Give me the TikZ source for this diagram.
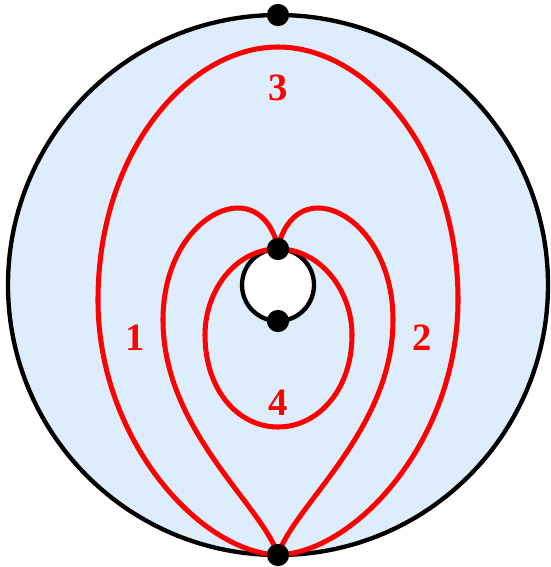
\documentclass[tikz,border=0pt]{standalone}
\usepackage{fontspec}
\setmainfont{Liberation Serif}
\definecolor{bgblue}{RGB}{221,237,252}
\definecolor{cred}{RGB}{255,0,0}
\begin{document}
\begin{tikzpicture}[x=0.03cm,y=-0.03cm,
  redline/.style={draw=cred,line width=4.3pt},
  blackline/.style={draw=black,line width=3.7pt},
  dot/.style={circle,fill=black,inner sep=0pt,minimum size=19pt},
  lbl/.style={text=cred,font=\fontsize{33}{33}\selectfont\bfseries}]
\useasboundingbox (0,0) rectangle (550,567);
\coordinate (C) at (278,285);
\draw[blackline,fill=bgblue] (C) circle[radius=270];
\draw[blackline,fill=white] (C) circle[radius=36];
\coordinate (T) at (278,15);
\coordinate (B) at (278,555);
\coordinate (P) at (278,249);
\coordinate (Q) at (278,321);
% curve 3
\draw[redline] (B) .. controls (200,552) and (98,440) .. (98,300)
  .. controls (98,150) and (190,47) .. (278,47)
  .. controls (366,47) and (458,150) .. (458,300)
  .. controls (458,440) and (356,552) .. (B);
% curve 1
\draw[redline] (B) .. controls (262,505) and (163,430) .. (163,320)
  .. controls (163,250) and (205,208) .. (238,208)
  .. controls (262,208) and (275,230) .. (P);
% curve 2
\draw[redline] (B) .. controls (294,505) and (393,430) .. (393,320)
  .. controls (393,250) and (351,208) .. (318,208)
  .. controls (294,208) and (281,230) .. (P);
% curve 4
\draw[redline] (P) .. controls (320,249) and (352,290) .. (352,335)
  .. controls (352,390) and (318,427) .. (278,427)
  .. controls (238,427) and (205,390) .. (205,335)
  .. controls (205,290) and (236,249) .. (P);
\node[dot] (t) at (T) {};
\node[dot] (b) at (B) {};
\node[dot] (p) at (P) {};
\node[dot] (q) at (Q) {};
\node[lbl] (l3) at (278,88) {3};
\node[lbl] (l1) at (135,338) {1};
\node[lbl] (l2) at (422,338) {2};
\node[lbl] (l4) at (278,403) {4};
\end{tikzpicture}
\end{document}
